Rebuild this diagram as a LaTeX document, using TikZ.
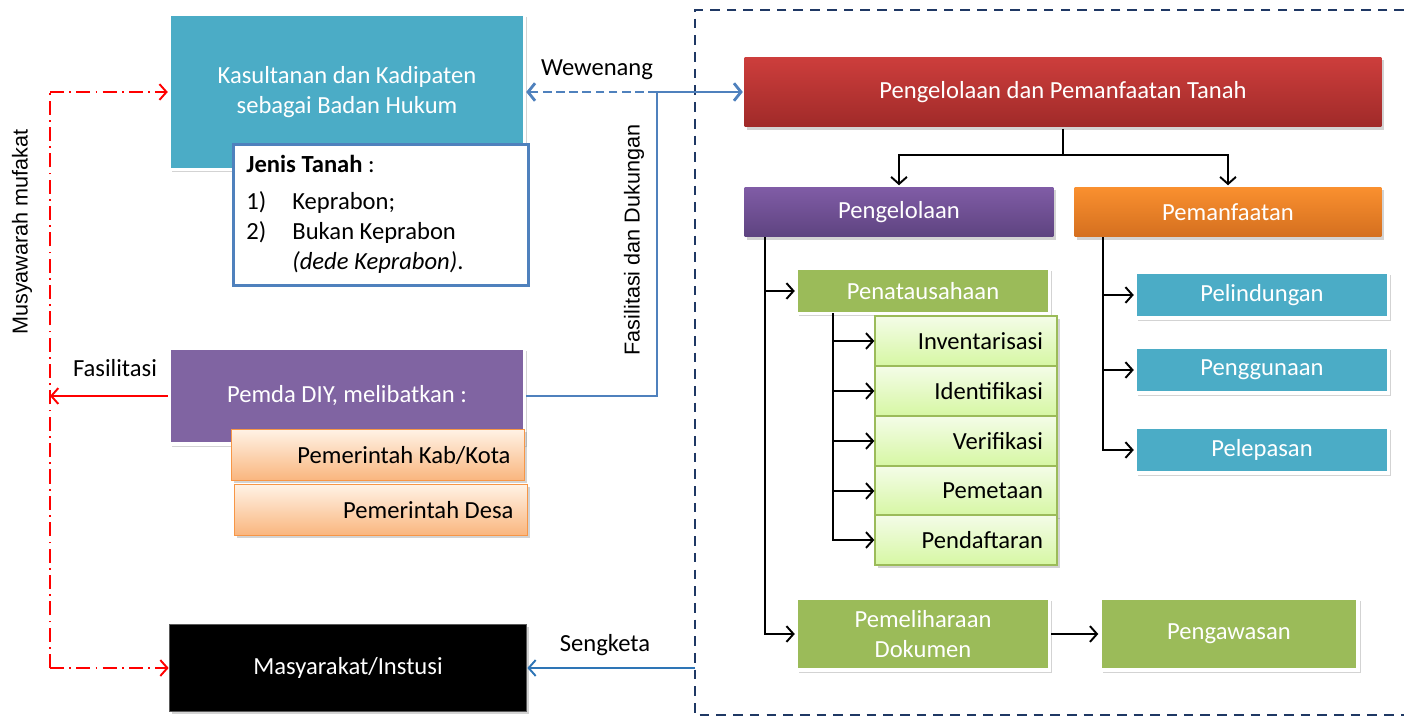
\documentclass[tikz,border=0pt]{standalone}
\usepackage{fontspec}
\setmainfont{Carlito}
\newfontfamily\arialfont{Liberation Sans}
\usepackage{tikz}
\usetikzlibrary{shapes,arrows.meta,shadows}
\definecolor{teal1}{HTML}{4BACC6}
\definecolor{purp1}{HTML}{8064A2}
\definecolor{grn1}{HTML}{9BBB59}
\definecolor{org1}{HTML}{F79646}
\definecolor{blue1}{HTML}{4F81BD}
\definecolor{blue2}{HTML}{2E75B6}
\definecolor{navy1}{HTML}{1F3864}
\tikzstyle{box} = [rectangle, align=center, inner sep=2pt, font=\fontsize{14}{17}\selectfont]
\tikzstyle{shad} = [drop shadow={shadow xshift=1.5pt, shadow yshift=-1.5pt, opacity=0.35}]
\tikzstyle{wbox} = [box, shad, text=white, draw=white, line width=2pt]
\tikzstyle{tealbox} = [wbox, fill=teal1]
\tikzstyle{purplebox} = [wbox, fill=purp1]
\tikzstyle{blackbox} = [box, shad, text=white, fill=black, draw=black!65, line width=1pt]
\tikzstyle{jenis} = [box, fill=white, draw=blue1, line width=1.6pt, align=flush left, inner xsep=0.26cm]
\tikzstyle{orangebox} = [box, shad, top color=orange!10, bottom color=org1!70, draw=org1, line width=0.8pt, align=flush right, inner xsep=0.28cm]
\tikzstyle{redbox} = [wbox, draw=none, top color={rgb,255:red,205;green,62;blue,60}, bottom color={rgb,255:red,160;green,42;blue,41}]
\tikzstyle{purplegrad} = [wbox, draw=none, top color={rgb,255:red,128;green,92;blue,166}, bottom color={rgb,255:red,94;green,67;blue,128}, minimum height=1cm]
\tikzstyle{orangegrad} = [wbox, draw=none, top color={rgb,255:red,250;green,144;blue,47}, bottom color={rgb,255:red,212;green,111;blue,31}, minimum height=1cm]
\tikzstyle{greenbox} = [wbox, fill=grn1, minimum width=5.06cm]
\tikzstyle{subbox} = [box, shad, top color={rgb,255:red,244;green,252;blue,232}, bottom color={rgb,255:red,214;green,247;blue,163}, draw=grn1, line width=0.8pt, text width=3.08cm, minimum height=1cm, align=flush right, inner xsep=0.28cm]
\tikzstyle{tealsmall} = [tealbox, minimum width=5.06cm, minimum height=0.92cm]
\tikzstyle{arr} = [draw, line width=1.1pt, -{Straight Barb[length=4pt,width=9pt]}]
\tikzstyle{line} = [draw, line width=1.1pt]
\tikzstyle{bluearr} = [draw=blue1, line width=1.6pt, -{Straight Barb[length=4pt,width=10pt]}]
\tikzstyle{bluedash} = [bluearr, dash pattern=on 5pt off 2.5pt]
\tikzstyle{reddash} = [draw=red, line width=1.1pt, dash pattern=on 8pt off 3pt on 1pt off 3pt]
\tikzstyle{frame} = [draw=navy1, line width=1.2pt, dash pattern=on 5.5pt off 4pt]
\tikzstyle{lbl} = [font=\fontsize{14}{17}\selectfont]
\tikzstyle{vlbl} = [font=\arialfont\fontsize{12.3}{15}\selectfont, rotate=90]

\begin{document}
\begin{tikzpicture}[x=0.02cm, y=-0.02cm]
\useasboundingbox (0,0) rectangle (1404,717);

% left side
\node [tealbox, minimum width=7.1cm, minimum height=3.1cm] (kas) at (347,92) {Kasultanan dan Kadipaten\\sebagai Badan Hukum};
\node [jenis, anchor=north west, text width=5.38cm, minimum height=2.82cm] (jns) at (232,143) {%
  \begin{tabular}{@{}p{0.92cm}@{}l@{}}
  \multicolumn{2}{@{}l@{}}{\textbf{Jenis Tanah} :}\\[4pt]
  1) & Keprabon;\\
  2) & Bukan Keprabon\\
     & \textit{(dede Keprabon)}.
  \end{tabular}};
\node [purplebox, minimum width=7.1cm, minimum height=1.92cm] (pmd) at (347,396) {Pemda DIY, melibatkan :};
\node [orangebox, text width=5.3cm, minimum height=1.02cm] (kab) at (378,455) {Pemerintah Kab/Kota};
\node [orangebox, text width=5.3cm, minimum height=1.02cm] (ds) at (381,510) {Pemerintah Desa};
\node [blackbox, minimum width=7.14cm, minimum height=1.74cm] (mas) at (348,668) {Masyarakat/Instusi};

% frame
\draw [frame] (1404,10) -- (695,10) -- (695,715) -- (1404,715);

% right side
\node [redbox, minimum width=12.74cm, minimum height=1.4cm] (top) at (1063,92) {Pengelolaan dan Pemanfaatan Tanah};
\node [purplegrad, minimum width=6.18cm] (pgl) at (899,212) {Pengelolaan};
\node [orangegrad, minimum width=6.14cm] (pmf) at (1228,212) {Pemanfaatan};
\node [greenbox, minimum height=0.9cm] (pnt) at (923,291) {Penatausahaan};
\foreach \name/\y/\txt in {inv/341/Inventarisasi, idf/391/Identifikasi, ver/441/Verifikasi, pmt/491/Pemetaan, pdf/540/Pendaftaran}
  \node [subbox] (\name) at (966,\y) {\txt};
\foreach \name/\y/\txt in {pld/295/Pelindungan, pgn/370/Penggunaan, plp/450/Pelepasan}
  \node [tealsmall] (\name) at (1262,\y) {\txt};
\node [greenbox, minimum height=1.44cm] (pml) at (923,634) {Pemeliharaan\\Dokumen};
\node [greenbox, minimum width=5.16cm, minimum height=1.44cm] (pgw) at (1229,634) {Pengawasan};

\coordinate (mtop) at (50,92);
\coordinate (mbot) at (50,668);
\coordinate (fs) at (50,396);
\coordinate (jn) at (657,92);
\coordinate (sk) at (695,668);
\coordinate (split) at (1063,155);
\coordinate (pglbus) at (765,237);
\coordinate (pntbus) at (833,313);
\coordinate (pmfbus) at (1103,237);

\path [reddash] (mbot) -- (mtop);
\path [reddash, -{Straight Barb[length=4pt,width=9pt]}] (mtop) -- (kas);
\path [reddash, -{Straight Barb[length=4pt,width=9pt]}] (mbot) -- (mas);
\path [draw=red, line width=1.1pt, -{Straight Barb[length=4pt,width=9pt]}] (pmd) -- (fs);
\path [draw=blue1, line width=1.6pt] (pmd) -| (jn);
\path [bluearr] (jn) -- (top);
\path [bluedash] (jn) -- (kas);
\path [draw=blue2, line width=1.1pt, -{Straight Barb[length=4pt,width=9pt]}] (sk) -- (mas);

\node [vlbl] (mus) at (22,232) {Musyawarah mufakat};
\node [lbl] (fsl) at (115,368) {Fasilitasi};
\node [lbl] (wwn) at (597,70) {Wewenang};
\node [vlbl] (fdd) at (634,240) {Fasilitasi dan Dukungan};
\node [lbl] (skt) at (605,645) {Sengketa};

\path [line] (top) -- (split);
\path [arr] (split) -| (pgl);
\path [arr] (split) -| (pmf);
\foreach \n in {pnt, pml}
  \path [arr] (pglbus) |- (\n);
\foreach \n in {inv, idf, ver, pmt, pdf}
  \path [arr] (pntbus) |- (\n);
\foreach \n in {pld, pgn, plp}
  \path [arr] (pmfbus) |- (\n);
\path [arr] (pml) -- (pgw);
\end{tikzpicture}
\end{document}
